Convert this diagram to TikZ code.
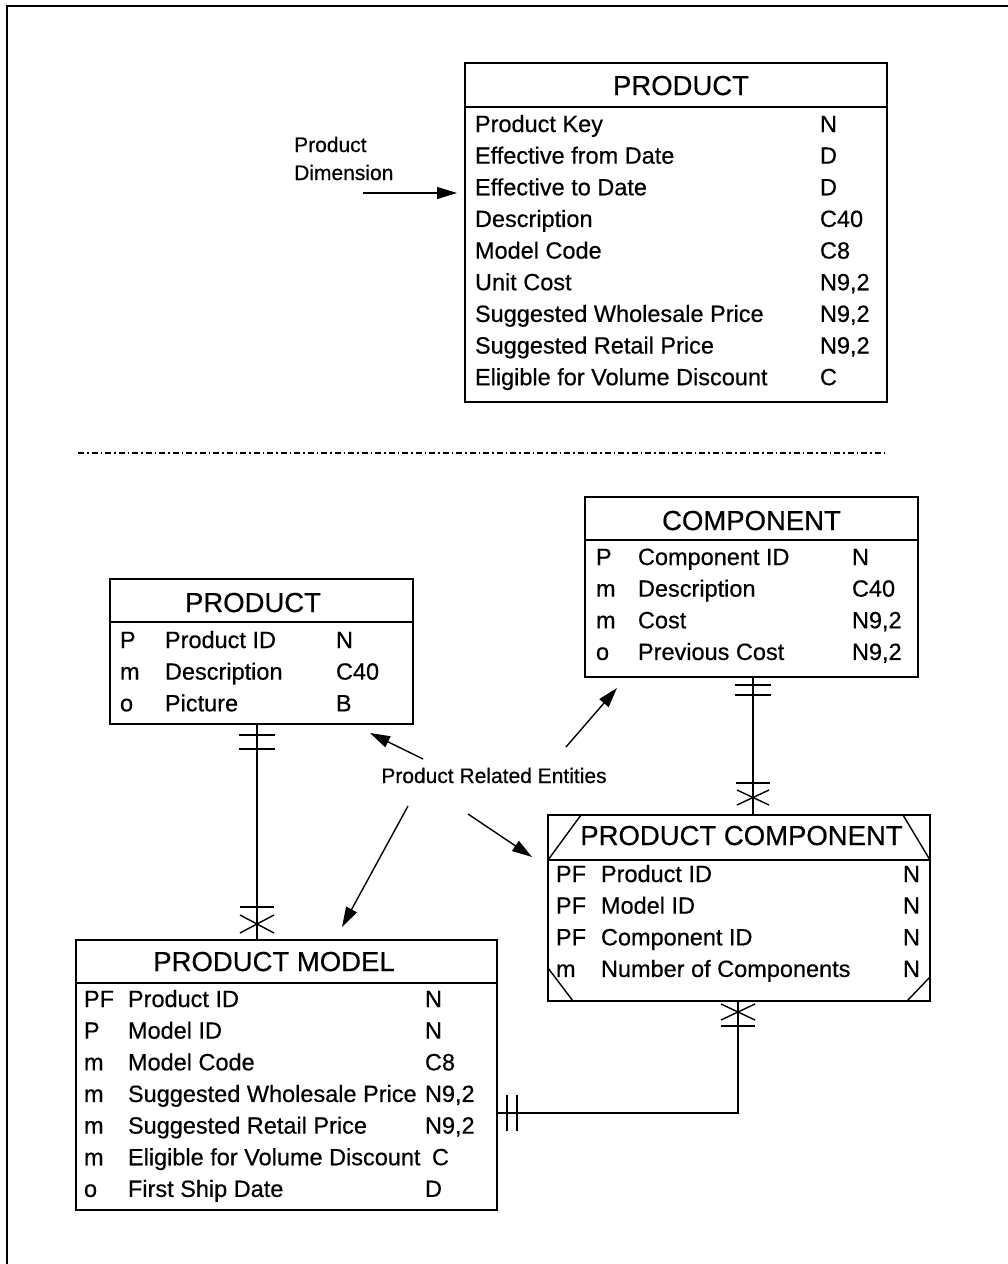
\documentclass[tikz,border=0pt]{standalone}
\usepackage{fontspec}
\setmainfont{Liberation Sans}[UprightFeatures={FakeBold=0.5}]
\usetikzlibrary{arrows.meta,calc}

% type sizes for the entity diagrams
\newcommand\erRow{\fontsize{23.5}{26}\selectfont}
\newcommand\erTitle{\fontsize{27.5}{30}\selectfont}
\newcommand\erLabel{\fontsize{21}{24}\selectfont}

\begin{document}
\begin{tikzpicture}[x=1pt,y=-1pt,
  entity/.style={draw, line width=1.6pt, outer sep=0pt, inner sep=0pt, anchor=north west},
  cell/.style={anchor=base west, inner sep=0pt, outer sep=0pt, font=\erRow},
  heading/.style={anchor=base, inner sep=0pt, font=\erTitle},
  note/.style={anchor=base west, inner sep=0pt, font=\erLabel},
  rule/.style={line width=1.5pt},
  conn/.style={line width=1.4pt},
  ptr/.style={line width=1.4pt, -{Triangle[length=20pt,width=12pt]}},
  dashdot/.style={line width=1.6pt, dash pattern=on 6pt off 3pt on 1.5pt off 3pt}]

\useasboundingbox (0,0) rectangle (1008,1264);

% page frame
\draw[line width=2pt] (1008,6) -- (7,6) -- (7,1264);

% ---------------- dimension table ----------------
\node[entity, minimum width=422pt, minimum height=339pt] (prodDim) at (465,63) {};
\draw[rule] ([yshift=-44pt]prodDim.north west) -- ([yshift=-44pt]prodDim.north east);
\node[heading] (prodDimT) at (681,95) {PRODUCT};
\foreach \n/\t [count=\i from 0] in {Product Key/N, Effective from Date/D, Effective to Date/D,
    Description/C40, Model Code/C8, Unit Cost/{N9,2}, Suggested Wholesale Price/{N9,2},
    Suggested Retail Price/{N9,2}, Eligible for Volume Discount/C} {
  \node[cell] (pd-n\i) at (475,{132+31.65*\i}) {\n};
  \node[cell] (pd-t\i) at (820,{132+31.65*\i}) {\t};
}

\node[note] (dimA) at (294,152) {Product};
\node[note] (dimB) at (294,180) {Dimension};
\coordinate (dimTail) at (363,193);
\draw[ptr, shorten >=8pt] (dimTail) -- (prodDim.west |- dimTail);

% section divider
\coordinate (divL) at (78,453);
\coordinate (divR) at (887,453);
\draw[dashdot] (divL) -- (divR);

% ---------------- COMPONENT ----------------
\node[entity, minimum width=333pt, minimum height=180pt] (comp) at (585,497) {};
\draw[rule] ([yshift=-43pt]comp.north west) -- ([yshift=-43pt]comp.north east);
\node[heading] (compT) at (751.5,530) {COMPONENT};
\foreach \k/\n/\t [count=\i from 0] in {P/Component ID/N, m/Description/C40,
    m/Cost/{N9,2}, o/Previous Cost/{N9,2}} {
  \node[cell] (cp-k\i) at (596,{565+31.65*\i}) {\k};
  \node[cell] (cp-n\i) at (638,{565+31.65*\i}) {\n};
  \node[cell] (cp-t\i) at (852,{565+31.65*\i}) {\t};
}

% ---------------- PRODUCT ----------------
\node[entity, minimum width=303pt, minimum height=145pt] (prodB) at (110,579) {};
\draw[rule] ([yshift=-43pt]prodB.north west) -- ([yshift=-43pt]prodB.north east);
\node[heading] (prodBT) at (253,612) {PRODUCT};
\foreach \k/\n/\t [count=\i from 0] in {P/Product ID/N, m/Description/C40, o/Picture/B} {
  \node[cell] (pb-k\i) at (120,{648+31.65*\i}) {\k};
  \node[cell] (pb-n\i) at (165,{648+31.65*\i}) {\n};
  \node[cell] (pb-t\i) at (336,{648+31.65*\i}) {\t};
}

% ---------------- PRODUCT COMPONENT (dependent entity) ----------------
\node[entity, minimum width=382pt, minimum height=186pt] (pcomp) at (548,815) {};
\draw[rule] ([yshift=-45pt]pcomp.north west) -- ([yshift=-45pt]pcomp.north east);
\draw[conn] ([xshift=33pt]pcomp.north west) -- ([yshift=-45pt]pcomp.north west);
\draw[conn] ([xshift=-27pt]pcomp.north east) -- ([yshift=-45pt]pcomp.north east);
\draw[conn] ([yshift=33pt]pcomp.south west) -- ([xshift=25pt]pcomp.south west);
\draw[conn] ([yshift=24pt]pcomp.south east) -- ([xshift=-23pt]pcomp.south east);
\node[heading] (pcompT) at (741.5,845) {PRODUCT COMPONENT};
\foreach \k/\n/\t [count=\i from 0] in {PF/Product ID/N, PF/Model ID/N,
    PF/Component ID/N, m/Number of Components/N} {
  \node[cell] (pc-k\i) at (556,{882+31.65*\i}) {\k};
  \node[cell] (pc-n\i) at (601,{882+31.65*\i}) {\n};
  \node[cell] (pc-t\i) at (903,{882+31.65*\i}) {\t};
}

% ---------------- PRODUCT MODEL ----------------
\node[entity, minimum width=421pt, minimum height=270pt] (model) at (76,940) {};
\draw[rule] ([yshift=-43pt]model.north west) -- ([yshift=-43pt]model.north east);
\node[heading] (modelT) at (274,971) {PRODUCT MODEL};
\foreach \k/\n/\t/\tx [count=\i from 0] in {PF/Product ID/N/425, P/Model ID/N/425,
    m/Model Code/C8/425, m/Suggested Wholesale Price/{N9,2}/425,
    m/Suggested Retail Price/{N9,2}/425, m/Eligible for Volume Discount/C/432,
    o/First Ship Date/D/425} {
  \node[cell] (pm-k\i) at (84,{1007+31.65*\i}) {\k};
  \node[cell] (pm-n\i) at (128,{1007+31.65*\i}) {\n};
  \node[cell] (pm-t\i) at (\tx,{1007+31.65*\i}) {\t};
}

% ---------------- relationships ----------------
% PRODUCT (one) -- PRODUCT MODEL (many)
\coordinate (r1) at (257,0);
\draw[conn] (prodB.south -| r1) coordinate (r1a) -- (model.north -| r1) coordinate (r1b);
\draw[conn] ($(r1a)+(-18,11)$) -- ++(36,0);
\draw[conn] ($(r1a)+(-18,25)$) -- ++(36,0);
\draw[conn] ($(r1b)+(-17,-33)$) -- ++(34,0);
\draw[conn] ($(r1b)+(-17,-25)$) -- ++(34,18);
\draw[conn] ($(r1b)+(-17,-7)$) -- ++(34,-18);

% COMPONENT (one) -- PRODUCT COMPONENT (many)
\coordinate (r2) at (753,0);
\draw[conn] (comp.south -| r2) coordinate (r2a) -- (pcomp.north -| r2) coordinate (r2b);
\draw[conn] ($(r2a)+(-18,8)$) -- ++(36,0);
\draw[conn] ($(r2a)+(-18,18)$) -- ++(36,0);
\draw[conn] ($(r2b)+(-17,-32)$) -- ++(34,0);
\draw[conn] ($(r2b)+(-16,-25)$) -- ++(32,15);
\draw[conn] ($(r2b)+(-16,-10)$) -- ++(32,-15);

% PRODUCT MODEL (one) -- PRODUCT COMPONENT (many)
\coordinate (r3) at (738,1113);
\draw[conn] (pcomp.south -| r3) coordinate (r3a) |- (model.east |- r3) coordinate (r3b);
\draw[conn] ($(r3a)+(-17,3)$) -- ++(34,16);
\draw[conn] ($(r3a)+(-17,19)$) -- ++(34,-16);
\draw[conn] ($(r3a)+(-17,25)$) -- ++(34,0);
\draw[conn] ($(r3b)+(10,-18)$) -- ++(0,36);
\draw[conn] ($(r3b)+(20,-18)$) -- ++(0,36);

% ---------------- annotation ----------------
\node[anchor=base, inner sep=0pt, font=\erLabel] (rel) at (494,783) {Product Related Entities};
\coordinate (a1s) at (423,759); \coordinate (a1e) at (370,733);
\coordinate (a2s) at (566,747); \coordinate (a2e) at (617,688);
\coordinate (a3s) at (408,806); \coordinate (a3e) at (342,927);
\coordinate (a4s) at (468,814); \coordinate (a4e) at (532,857);
\draw[ptr] (a1s) -- (a1e);
\draw[ptr] (a2s) -- (a2e);
\draw[ptr] (a3s) -- (a3e);
\draw[ptr] (a4s) -- (a4e);

\end{tikzpicture}
\end{document}
